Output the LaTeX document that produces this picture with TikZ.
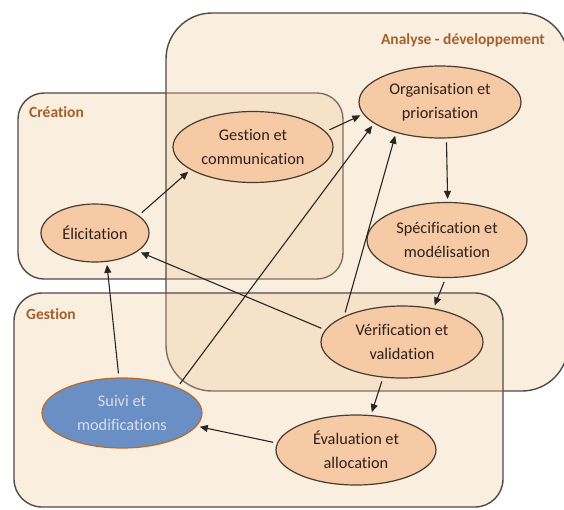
\documentclass[tikz,border=0pt]{standalone}
\usepackage{fontspec}
\setmainfont[Ligatures={NoCommon}]{Carlito}
\usetikzlibrary{shapes.geometric,arrows.meta}

\definecolor{zonefill}{RGB}{240,200,150}
\definecolor{zoneline}{RGB}{80,75,70}
\definecolor{zonetext}{RGB}{165,95,45}
\definecolor{stepfill}{RGB}{247,202,166}
\definecolor{stepline}{RGB}{70,60,50}
\definecolor{steptext}{RGB}{45,32,25}
\definecolor{trackfill}{RGB}{106,143,196}
\definecolor{trackline}{RGB}{185,105,45}
\definecolor{tracktext}{RGB}{218,222,232}

\tikzset{
  zone/.style={draw=zoneline, line width=1.4pt, fill=zonefill, fill opacity=0.3},
  zonelabel/.style={text=zonetext, font=\bfseries\fontsize{15.5}{18}\selectfont, inner sep=0pt},
  stepnode/.style={ellipse, draw=stepline, line width=1.2pt, fill=stepfill,
    text=steptext, align=center, inner sep=0pt,
    font=\fontsize{16.3}{24}\selectfont},
  tracknode/.style={stepnode, fill=trackfill, draw=trackline, text=tracktext},
  flow/.style={-{Triangle[length=8pt,width=7pt]}, line width=1.1pt, draw=black!85,
    shorten <=4pt, shorten >=3pt},
}

\begin{document}
\begin{tikzpicture}[x=1pt, y=-1pt]
\useasboundingbox (0,0) rectangle (564,509);
\fill[white] (0,0) rectangle (564,509);

% phase zones
\draw[zone, rounded corners=26pt] (18,93) rectangle (343,279);
\draw[zone, rounded corners=46pt] (166,13) rectangle (568,391);
\draw[zone, rounded corners=28pt] (14,293) rectangle (503,507);

\node[zonelabel, anchor=west] (lcreation) at (29,112) {Création};
\node[zonelabel, anchor=east] (lanalyse) at (545,40) {Analyse - développement};
\node[zonelabel, anchor=west] (lgestion) at (26,314) {Gestion};

% activities
\node[stepnode, minimum width=108pt, minimum height=58pt] (elic) at (95,233) {Élicitation};
\node[stepnode, minimum width=160pt, minimum height=71pt] (gc) at (253,147) {Gestion et\\communication};
\node[stepnode, minimum width=162pt, minimum height=72pt] (org) at (440,102) {Organisation et\\priorisation};
\node[stepnode, minimum width=160pt, minimum height=75pt] (spec) at (447,240) {Spécification et\\modélisation};
\node[stepnode, minimum width=162pt, minimum height=72pt] (verif) at (402,342) {Vérification et\\validation};
\node[stepnode, minimum width=160pt, minimum height=70pt] (eval) at (356,450) {Évaluation et\\allocation};
\node[tracknode, minimum width=160pt, minimum height=70pt] (suivi) at (122,413) {Suivi et\\modifications};

% flows
\draw[flow] (elic.22) -- (gc.-160);
\draw[flow] (gc.12) -- (org.189);
\draw[flow] (suivi.25) -- (org.198);
\draw[flow] (verif.156) -- (org.215);
\draw[flow] (org.-80) -- (spec.89);
\draw[flow] (spec.-92) -- (verif.47);
\draw[flow] (verif.171) -- (elic.-23);
\draw[flow] (verif.242) -- (eval.67);
\draw[flow] (eval.175) -- (suivi.-10);
\draw[flow] (suivi.95) -- (elic.-68);
\end{tikzpicture}
\end{document}
